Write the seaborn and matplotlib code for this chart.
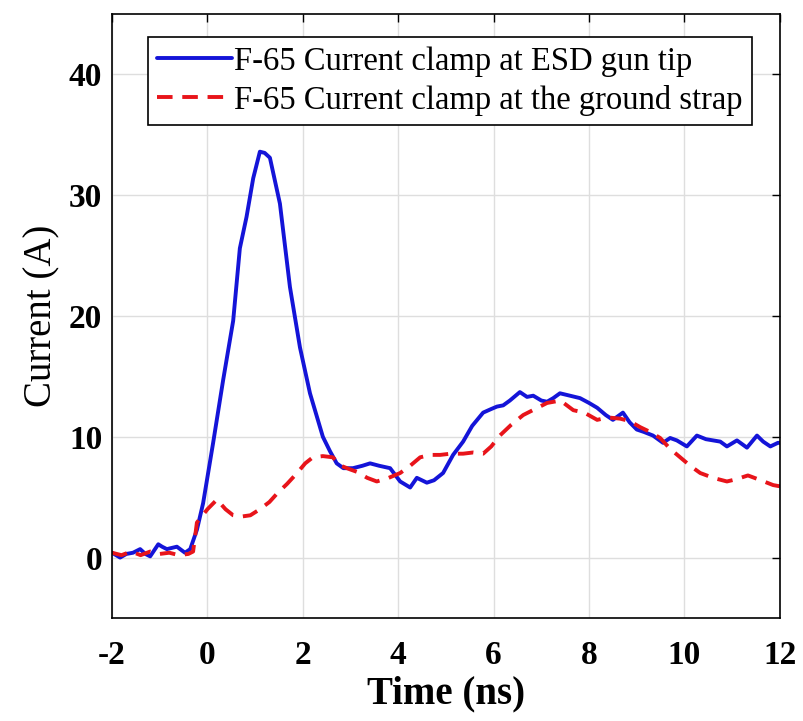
import numpy as np
import pandas as pd
import matplotlib
matplotlib.use("Agg")
import matplotlib.pyplot as plt
import seaborn as sns

# ---- data ----
t_blue = [-2.0, -1.83, -1.7, -1.56, -1.41, -1.3, -1.2, -1.03, -0.95, -0.85, -0.64, -0.47, -0.36,
          -0.22, -0.09, 0.12, 0.33, 0.54, 0.68, 0.82, 0.96, 1.1, 1.2, 1.31, 1.52, 1.73, 1.94,
          2.15, 2.42, 2.57, 2.71, 2.85, 3.05, 3.25, 3.41, 3.6, 3.83, 4.04, 4.25, 4.39, 4.6,
          4.75, 4.94, 5.15, 5.36, 5.55, 5.78, 5.95, 6.07, 6.2, 6.34, 6.55, 6.7, 6.83, 7.0,
          7.12, 7.25, 7.39, 7.6, 7.81, 8.0, 8.17, 8.35, 8.5, 8.71, 8.85, 9.0, 9.15, 9.34,
          9.55, 9.7, 9.84, 10.05, 10.26, 10.45, 10.6, 10.75, 10.89, 11.1, 11.31, 11.52,
          11.65, 11.8, 11.96, 12.0]
i_blue = [0.4, 0.0, 0.3, 0.4, 0.7, 0.3, 0.1, 1.1, 0.9, 0.7, 0.9, 0.4, 0.7,
          2.3, 4.5, 9.5, 14.7, 19.6, 25.6, 28.2, 31.4, 33.6, 33.5, 33.1, 29.3, 22.4, 17.4,
          13.6, 10.0, 8.8, 7.8, 7.4, 7.4, 7.6, 7.8, 7.6, 7.4, 6.3, 5.8, 6.6, 6.2,
          6.4, 7.0, 8.5, 9.6, 10.9, 12.0, 12.3, 12.5, 12.6, 13.0, 13.7, 13.3, 13.4, 13.0,
          12.9, 13.2, 13.6, 13.4, 13.2, 12.8, 12.4, 11.8, 11.4, 12.0, 11.2, 10.6, 10.4, 10.1,
          9.5, 9.9, 9.7, 9.2, 10.1, 9.8, 9.7, 9.6, 9.2, 9.7, 9.1, 10.1,
          9.6, 9.2, 9.5, 9.5]

t_red = [-2.0, -1.8, -1.6, -1.4, -1.2, -1.0, -0.8, -0.6, -0.4, -0.3, -0.22, 0.0, 0.2,
         0.38, 0.54, 0.72, 0.9, 1.1, 1.3, 1.46, 1.67, 1.88, 2.05, 2.21, 2.42, 2.63, 2.8,
         2.99, 3.13, 3.35, 3.55, 3.8, 4.04, 4.25, 4.46, 4.67, 4.88, 5.1, 5.36, 5.57, 5.78,
         5.95, 6.13, 6.37, 6.62, 6.87, 7.12, 7.4, 7.67, 7.9, 8.17, 8.4, 8.65, 8.85, 9.07,
         9.28, 9.49, 9.7, 9.91, 10.12, 10.33, 10.6, 10.89, 11.1, 11.33, 11.6, 11.86, 12.0]
i_red = [0.4, 0.2, 0.5, 0.2, 0.5, 0.3, 0.4, 0.2, 0.3, 0.5, 2.9, 4.0, 4.8,
         4.0, 3.5, 3.4, 3.5, 4.0, 4.6, 5.3, 6.1, 7.0, 7.8, 8.3, 8.4, 8.3, 7.6,
         7.3, 7.1, 6.6, 6.3, 6.6, 7.0, 7.6, 8.3, 8.5, 8.5, 8.6, 8.6, 8.7, 8.6,
         9.2, 10.1, 11.0, 11.8, 12.3, 12.8, 13.0, 12.2, 12.0, 11.4, 11.6, 11.5, 11.3, 10.8,
         10.4, 9.9, 9.0, 8.3, 7.6, 7.0, 6.6, 6.3, 6.5, 6.8, 6.4, 6.0, 5.9]

label_blue = "F-65 Current clamp at ESD gun tip"
label_red = "F-65 Current clamp at the ground strap"

x_ticks = [-2, 0, 2, 4, 6, 8, 10, 12]
y_ticks = [0, 10, 20, 30, 40]

df = pd.concat([
    pd.DataFrame({"Time": t_blue, "Current": i_blue, "Series": label_blue}),
    pd.DataFrame({"Time": t_red, "Current": i_red, "Series": label_red}),
], ignore_index=True)

sns.set_theme(style="white")
plt.rcParams["font.family"] = ["Liberation Serif", "DejaVu Serif"]
plt.rcParams["axes.unicode_minus"] = False
plt.rcParams["text.color"] = "black"
plt.rcParams["axes.labelcolor"] = "black"

fig = plt.figure(figsize=(8.04, 7.21), dpi=100)
ax = fig.add_axes([0.1393, 0.1429, 0.8307, 0.8377])

palette = {label_blue: "#1414d8", label_red: "#e8141a"}
sns.lineplot(data=df, x="Time", y="Current", hue="Series", style="Series",
             palette=palette, dashes={label_blue: "", label_red: (4, 2.5)},
             linewidth=2.8, sort=False, estimator=None, ax=ax)

ax.set_xlim(-2, 12)
ax.set_ylim(-5, 45)
ax.set_xticks(x_ticks)
ax.set_yticks(y_ticks)
ax.grid(True, color="#dedede", linewidth=1.0)
ax.set_axisbelow(True)
ax.tick_params(direction="in", top=True, right=True, length=6, width=1,
               labelsize=24, colors="black")
ax.tick_params(axis="x", pad=16)
ax.tick_params(axis="y", pad=7)
for lab in ax.get_xticklabels() + ax.get_yticklabels():
    lab.set_fontweight("bold")
for sp in ax.spines.values():
    sp.set_color("black")
    sp.set_linewidth(1.2)

ax.set_xlabel("Time (ns)", fontsize=28, fontweight="bold", labelpad=3, color="black")
ax.set_ylabel("Current (A)", fontsize=28, labelpad=6, color="black")

leg = ax.legend(loc="upper left", bbox_to_anchor=(0.054, 0.962), fontsize=23.5,
                frameon=True, fancybox=False, edgecolor="black", framealpha=1,
                handlelength=2.3, handletextpad=0.05, borderpad=0.28,
                labelspacing=0.25, borderaxespad=0)
leg.get_frame().set_linewidth(1.2)
for txt in leg.get_texts():
    txt.set_color("black")

fig.savefig("out.png", dpi=100)
